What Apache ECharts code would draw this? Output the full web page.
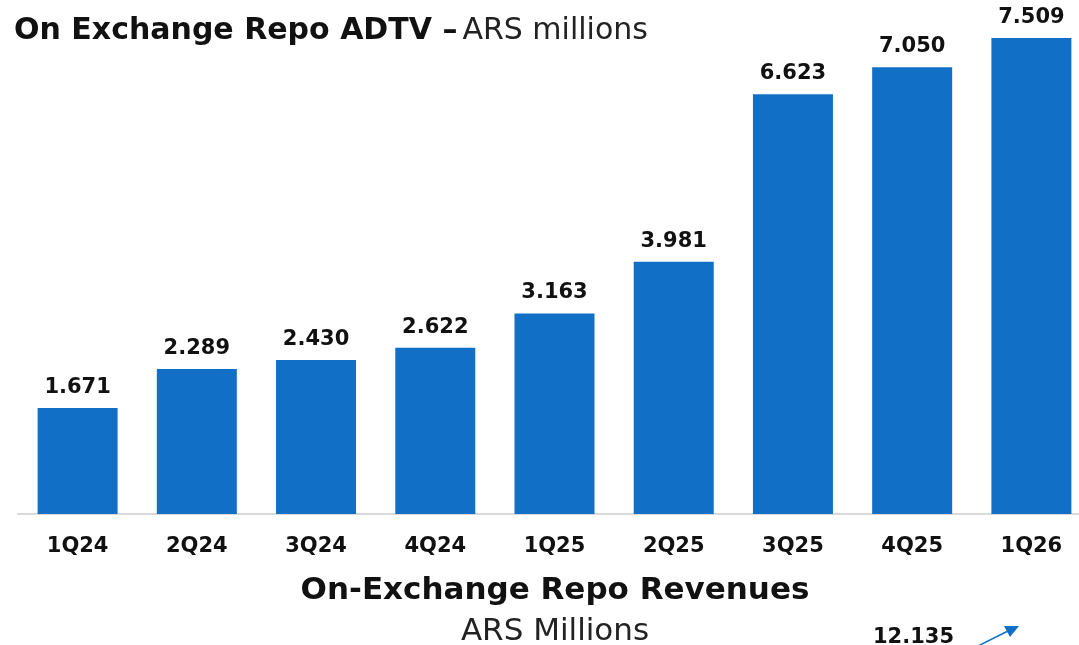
<!DOCTYPE html>
<html>
<head>
<meta charset="utf-8">
<script src="https://cdn.jsdelivr.net/npm/echarts@6/dist/echarts.min.js"></script>
<style>
  html, body { margin: 0; padding: 0; background: #fff; }
  #chart { width: 1079px; height: 645px; }
</style>
</head>
<body>
<div id="chart"></div>
<script>
// quarters and ADTV values (ARS millions)
const quarters = ['1Q24', '2Q24', '3Q24', '4Q24', '1Q25', '2Q25', '3Q25', '4Q25', '1Q26'];
const adtv = [1671, 2289, 2430, 2622, 3163, 3981, 6623, 7050, 7509];
const revenueValue = '12.135';

const font = '"DejaVu Sans", "Noto Sans", sans-serif';
const barColor = '#126FC6';

// thousands with a dot, like the original
function fmt(v) {
    return String(v).replace(/\B(?=(\d{3})+(?!\d))/g, '.');
}

const chart = echarts.init(document.getElementById('chart'));
chart.setOption({
    animation: false,
    // plot runs a bit past the right edge, as in the original slide
    grid: { left: 18, width: 1073, top: 7, bottom: 131, outerBoundsMode: 'none', containLabel: false },
    title: {
        left: 9,
        top: 11,
        text: '{b|On Exchange Repo ADTV –} {n|ARS millions}',
        textStyle: {
            rich: {
                b: { fontFamily: font, fontWeight: 'bold', fontSize: 30, color: '#111' },
                n: { fontFamily: font, fontWeight: 'normal', fontSize: 30, color: '#222' }
            }
        }
    },
    xAxis: {
        type: 'category',
        data: quarters,
        axisLine: { lineStyle: { color: '#D9D9D9', width: 2 } },
        axisTick: { show: false },
        axisLabel: {
            margin: 22,
            fontFamily: font,
            fontWeight: 'bold',
            fontSize: 21,
            color: '#111'
        }
    },
    yAxis: {
        type: 'value',
        min: 0,
        max: 8000,
        show: false,
        splitLine: { show: false }
    },
    series: [{
        type: 'bar',
        data: adtv,
        barWidth: 80,
        itemStyle: { color: barColor },
        label: {
            show: true,
            position: 'top',
            distance: 10,
            fontFamily: font,
            fontWeight: 'bold',
            fontSize: 21,
            color: '#111',
            formatter: p => fmt(p.value)
        }
    }],
    graphic: [
        {
            type: 'text',
            style: {
                x: 555,
                y: 591,
                textAlign: 'center',
                textVerticalAlign: 'middle',
                text: 'On-Exchange Repo Revenues',
                fontFamily: font,
                fontWeight: 'bold',
                fontSize: 31,
                fill: '#111'
            }
        },
        {
            type: 'text',
            style: {
                x: 555,
                y: 632,
                textAlign: 'center',
                textVerticalAlign: 'middle',
                text: 'ARS Millions',
                fontFamily: font,
                fontSize: 31,
                fill: '#222'
            }
        },
        {
            type: 'text',
            left: 873,
            top: 627,
            style: {
                text: revenueValue,
                fontFamily: font,
                fontWeight: 'bold',
                fontSize: 21,
                fill: '#111'
            }
        },
        {
            type: 'line',
            shape: { x1: 978, y1: 646, x2: 1008, y2: 631 },
            style: { stroke: barColor, lineWidth: 1.5 }
        },
        {
            type: 'polygon',
            shape: { points: [[1019, 626], [1004, 626], [1010, 637]] },
            style: { fill: barColor }
        }
    ]
});
</script>
</body>
</html>
